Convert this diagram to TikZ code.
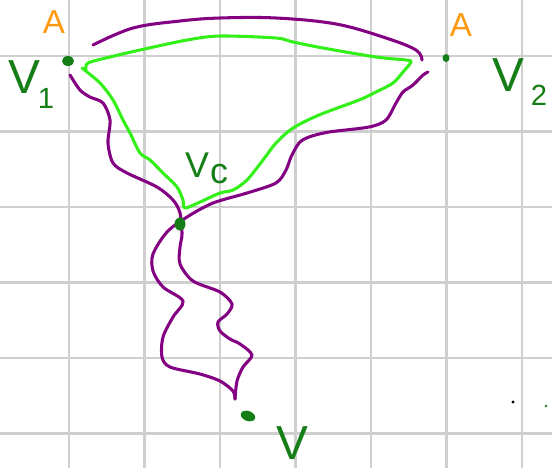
\documentclass[tikz,border=0pt]{standalone}
\usepackage{fontspec}
\setmainfont{Liberation Sans}
\usetikzlibrary{positioning}
\definecolor{gridgray}{HTML}{CFCFCF}
\definecolor{pathpurple}{HTML}{830083}
\definecolor{loopgreen}{HTML}{33F018}
\definecolor{vertgreen}{HTML}{167E16}
\definecolor{markorange}{HTML}{FF9A10}

\begin{document}
\begin{tikzpicture}[x=0.013245cm,y=-0.013245cm,
    gridline/.style={gridgray,line width=0.95pt},
    purpleline/.style={pathpurple,line width=1.15pt,line cap=round,line join=round},
    greenline/.style={loopgreen,line width=1.15pt,line cap=round,line join=round},
    vdot/.style={fill=vertgreen,draw=none},
    vlabel/.style={vertgreen,inner sep=0pt,font=\fontsize{18}{18}\selectfont},
    alabel/.style={markorange,inner sep=0pt,font=\fontsize{12.5}{12.5}\selectfont}]
    \useasboundingbox (0,0) rectangle (552,468);
    \fill[white] (0,0) rectangle (552,468);

    % grid
    \foreach \gx in {69,144.5,220,295.5,371,446.5,522}
        \draw[gridline] (\gx,0) -- (\gx,468);
    \foreach \gy in {56,131.5,207,282.5,358,433.5}
        \draw[gridline] (0,\gy) -- (552,\gy);

    % purple, top arc
    \draw[purpleline] plot[smooth,tension=0.6] coordinates {(93,45) (133,28) (180,21) (220,18)
        (276,18) (336,24) (386,38) (416,50) (422,60)};

    % green loop
    \draw[greenline] plot[smooth,tension=0.5] coordinates {(86,70) (88,63) (110,57) (140,50)
        (187,40) (220,36) (276,38) (293,42) (323,48) (376,57) (406,60) (411,62) (403,72)
        (393,83) (376,92) (359,100) (319,115) (293,128) (276,143) (263,160) (247,180)
        (233,190) (220,193) (200,202) (185,208) (183,200) (177,187) (163,173) (150,160)
        (140,153) (130,133) (123,120) (113,100) (100,83) (82,68)};

    % purple, right strand and outer lobe
    \draw[purpleline] plot[smooth,tension=0.5] coordinates {(428,72) (423,75) (413,85)
        (403,92) (396,103) (386,120) (369,127) (329,132) (309,137) (299,143) (291,157)
        (286,170) (276,183) (247,193) (213,203) (187,217) (167,232) (153,254) (153,271)
        (163,287) (183,301) (173,317) (163,337) (162,357) (170,367) (200,374) (220,381)
        (233,391) (235,399)};

    % purple, left strand and inner lobe
    \draw[purpleline] plot[smooth,tension=0.5] coordinates {(70,75) (80,90) (90,97)
        (103,103) (110,120) (108,143) (113,163) (127,173) (157,187) (173,200) (180,213)
        (182,234) (180,247) (180,264) (193,281) (220,292) (232,304) (227,314) (218,322)
        (220,331) (230,339) (240,344) (252,355) (243,367) (237,381) (235,399)};

    % vertices
    \fill[vdot] (68,61) ellipse [x radius=6, y radius=5];
    \fill[vdot] (446,58) ellipse [x radius=3.5, y radius=4];
    \fill[vdot] (180,224) ellipse [x radius=5.5, y radius=6.5];
    \fill[vdot,rotate around={-20:(248,416)}] (248,416) ellipse [x radius=7.5, y radius=5];
    \fill[black] (513,402) circle (1.6);
    \fill[vertgreen] (546,406) circle (1.3);

    % labels
    \node[alabel] (aleft) at (54,22) {A};
    \node[alabel] (aright) at (461,25) {A};
    \node[vlabel] (vone) at (24,77) {V};
    \node[vlabel,font=\fontsize{11}{11}\selectfont] (vonesub) at (46,98) {1};
    \node[vlabel] (vtwo) at (508,75) {V};
    \node[vlabel,font=\fontsize{11}{11}\selectfont] (vtwosub) at (539,95) {2};
    \node[vlabel,font=\fontsize{13.5}{13.5}\selectfont] (vc) at (197,165) {V};
    \node[vlabel,font=\fontsize{13.5}{13.5}\selectfont] (vcsub) at (219,174) {c};
    \node[vlabel,font=\fontsize{18}{18}\selectfont] (vend) at (292,443) {V};
\end{tikzpicture}
\end{document}
